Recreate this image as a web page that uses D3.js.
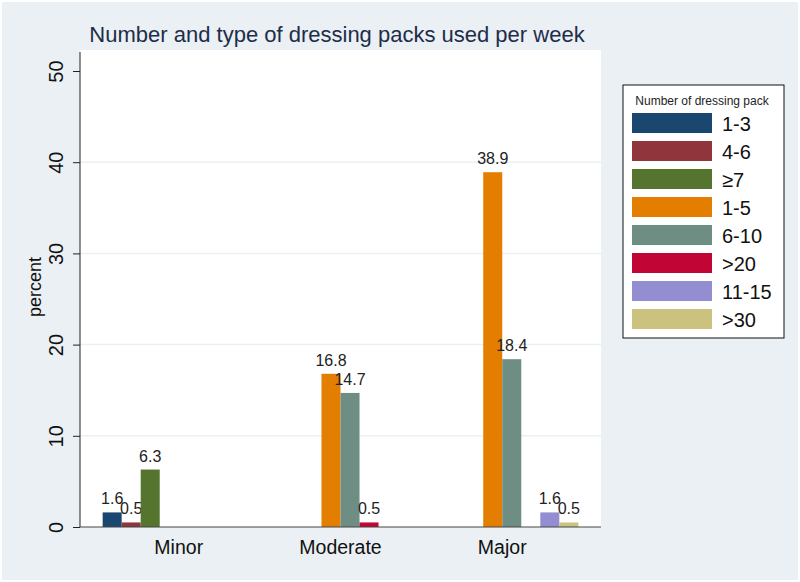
<!DOCTYPE html>
<html>
<head>
<meta charset="utf-8">
<script src="https://cdn.jsdelivr.net/npm/d3@7"></script>
<style>
  body { margin: 0; background: #fff; }
  text { font-family: Arial, "Liberation Sans", sans-serif; }
</style>
</head>
<body>
<svg id="chart"></svg>
<script>
const WIDTH = 800,
  HEIGHT = 582;

// data
const groups = ["Minor", "Moderate", "Major"];
const series = ["1-3", "4-6", "≥7", "1-5", "6-10", ">20", "11-15", ">30"];
const colors = ["#1a476f", "#90353b", "#55752f", "#e37e00", "#6e8e84", "#c10534", "#938dd2", "#cac27e"];
// one row per group, one value per series (null = no bar)
const minorValues = [1.6, 0.5, 6.3, null, null, null, null, null];
const moderateValues = [null, null, null, 16.8, 14.7, 0.5, null, null];
const majorValues = [null, null, null, 38.9, 18.4, null, 1.6, 0.5];
const yTicks = [0, 10, 20, 30, 40, 50];

const values = [minorValues, moderateValues, majorValues];

const svg = d3.select("#chart")
  .attr("width", WIDTH)
  .attr("height", HEIGHT);

// graph region
svg.append("rect")
  .attr("x", 2).attr("y", 2)
  .attr("width", WIDTH - 4).attr("height", HEIGHT - 4)
  .attr("fill", "#eaf0f3");

const plot = { left: 80, right: 601, top: 50, bottom: 527 };

svg.append("rect")
  .attr("x", plot.left).attr("y", plot.top)
  .attr("width", plot.right - plot.left).attr("height", plot.bottom - plot.top)
  .attr("fill", "#fff");

const x = d3.scaleBand()
  .domain(groups)
  .range([plot.left, plot.right])
  .paddingInner(0.059)
  .paddingOuter(0.14);

const xs = d3.scaleBand()
  .domain(series)
  .range([0, x.bandwidth()]);

const y = d3.scaleLinear()
  .domain([0, 50])
  .range([plot.bottom, plot.bottom - 5 * 91.2]);

// grid lines
svg.append("g")
  .selectAll("line")
  .data(yTicks.filter(d => d > 0 && d < 50))
  .enter()
  .append("line")
  .attr("x1", plot.left).attr("x2", plot.right)
  .attr("y1", d => y(d)).attr("y2", d => y(d))
  .attr("stroke", "#eaf0f3")
  .attr("stroke-width", 1.5);

// bars
const groupG = svg.append("g")
  .selectAll("g")
  .data(groups)
  .enter()
  .append("g")
  .attr("transform", d => `translate(${x(d)},0)`);

const bars = groupG.selectAll("g")
  .data((g, i) => values[i].map((v, j) => ({ s: series[j], v: v, c: colors[j] })).filter(d => d.v !== null))
  .enter()
  .append("g");

bars.append("rect")
  .attr("x", d => xs(d.s))
  .attr("width", xs.bandwidth())
  .attr("y", d => y(d.v))
  .attr("height", d => y(0) - y(d.v))
  .attr("fill", d => d.c);

bars.append("text")
  .attr("x", d => xs(d.s) + xs.bandwidth() / 2)
  .attr("y", d => y(d.v) - 8)
  .attr("text-anchor", "middle")
  .attr("font-size", 16)
  .attr("fill", "#222")
  .text(d => d.v.toFixed(1));

// y axis
const yAxis = svg.append("g")
  .attr("transform", `translate(${plot.left},0)`)
  .call(d3.axisLeft(y).tickValues(yTicks).tickSize(7).tickFormat(d3.format("d")));

yAxis.select(".domain").attr("d", `M0,${plot.top + 2}V${plot.bottom}`).attr("stroke", "#222");
yAxis.selectAll(".tick line").attr("stroke", "#222");
yAxis.selectAll(".tick text")
  .attr("transform", "rotate(-90)")
  .attr("x", 0)
  .attr("y", -17)
  .attr("dy", 0)
  .attr("text-anchor", "middle")
  .attr("font-size", 20)
  .attr("fill", "#111");

// x axis
svg.append("line")
  .attr("x1", plot.left).attr("x2", plot.right)
  .attr("y1", plot.bottom).attr("y2", plot.bottom)
  .attr("stroke", "#444");

svg.append("g")
  .selectAll("text")
  .data(groups)
  .enter()
  .append("text")
  .attr("x", d => x(d) + x.bandwidth() / 2)
  .attr("y", 554)
  .attr("text-anchor", "middle")
  .attr("font-size", 19.5)
  .attr("fill", "#111")
  .text(d => d);

// axis title
svg.append("text")
  .attr("transform", "translate(41,287) rotate(-90)")
  .attr("text-anchor", "middle")
  .attr("font-size", 18)
  .attr("fill", "#111")
  .text("percent");

// title
svg.append("text")
  .attr("x", 337)
  .attr("y", 42)
  .attr("text-anchor", "middle")
  .attr("font-size", 22)
  .attr("fill", "#1e2d4a")
  .text("Number and type of dressing packs used per week");

// legend
const legend = svg.append("g").attr("transform", "translate(623,85)");

legend.append("rect")
  .attr("width", 161).attr("height", 253)
  .attr("fill", "#fff")
  .attr("stroke", "#111");

legend.append("text")
  .attr("x", 79).attr("y", 20)
  .attr("text-anchor", "middle")
  .attr("font-size", 12)
  .attr("fill", "#222")
  .text("Number of dressing pack");

const item = legend.selectAll(".item")
  .data(series)
  .enter()
  .append("g")
  .attr("class", "item")
  .attr("transform", (d, i) => `translate(9,${28 + i * 28})`);

item.append("rect")
  .attr("width", 80).attr("height", 20)
  .attr("fill", (d, i) => colors[i]);

item.append("text")
  .attr("x", 90).attr("y", 18)
  .attr("font-size", 20)
  .attr("fill", "#111")
  .text(d => d);
</script>
</body>
</html>
